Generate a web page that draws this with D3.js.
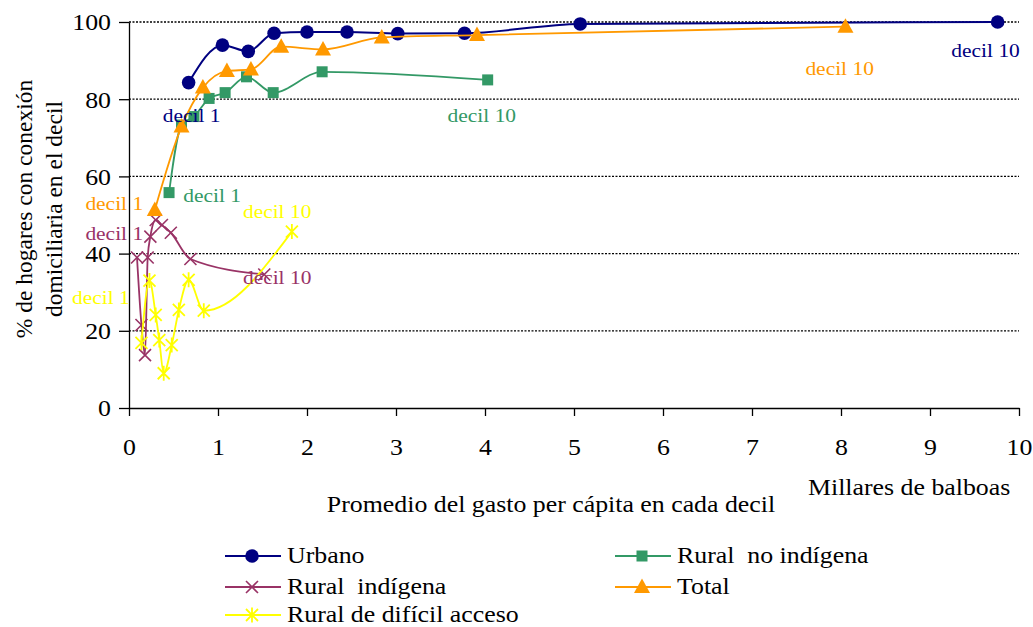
<!DOCTYPE html>
<html>
<head>
<meta charset="utf-8">
<script src="https://cdn.jsdelivr.net/npm/d3@7"></script>
<style>
  body { margin: 0; background: #fff; }
  svg { display: block; }
  text { font-family: "Liberation Serif", "Times New Roman", serif; }
</style>
</head>
<body>
<script>
// values (x: millares de balboas, y: % de hogares)
var urbanoX = [0.67, 1.05, 1.34, 1.63, 2.00, 2.45, 3.02, 3.77, 5.07, 9.76];
var urbanoY = [84.3, 94.0, 92.4, 97.1, 97.4, 97.4, 97.0, 97.1, 99.5, 100];

var ruralNoIndX = [0.45, 0.59, 0.73, 0.90, 1.08, 1.32, 1.62, 2.17, 4.03];
var ruralNoIndY = [55.8, 73.3, 75.5, 80.2, 81.7, 85.8, 81.7, 87.1, 85.0];

var ruralIndX = [0.09, 0.14, 0.18, 0.21, 0.24, 0.30, 0.37, 0.47, 0.69, 1.52];
var ruralIndY = [39.0, 21.5, 13.7, 39.0, 44.4, 48.7, 47.4, 45.4, 38.6, 34.6];

var totalX = [0.29, 0.59, 0.83, 1.10, 1.37, 1.71, 2.18, 2.84, 3.91, 8.05];
var totalY = [51.3, 72.9, 83.0, 87.3, 87.7, 93.6, 92.9, 96.0, 96.6, 98.8];

var dificilX = [0.14, 0.23, 0.30, 0.34, 0.39, 0.48, 0.56, 0.67, 0.84, 1.83];
var dificilY = [16.9, 33.0, 24.1, 17.6, 9.0, 16.3, 25.4, 33.2, 25.2, 45.7];

var xTicks = [0, 1, 2, 3, 4, 5, 6, 7, 8, 9, 10];
var yTicks = [0, 20, 40, 60, 80, 100];
var gridValues = [20, 40, 60, 80, 100];

var seriesNames = ["Urbano", "Rural  no indígena", "Rural  indígena", "Total", "Rural de difícil acceso"];

// decil labels (text, series index, anchor in data units)
var labelText  = ["decil 1", "decil 10", "decil 1", "decil 10", "decil 1", "decil 10", "decil 1", "decil 10", "decil 1", "decil 10"];
var labelSeries = [0, 0, 1, 1, 2, 2, 3, 3, 4, 4];
var labelX = [0.38, 9.24, 0.61, 3.58, -0.49, 1.28, -0.49, 7.60, -0.64, 1.28];
var labelY = [74.1, 90.9, 53.4, 74.1, 43.5, 32.1, 51.3, 86.3, 26.9, 49.2];

var w = 1033, h = 627;
var SX = 1.1; // horizontal text stretch of the original picture

var colors = ["#000080", "#339966", "#993366", "#FF9900", "#FFFF00"];
var markers = ["circle", "square", "x", "triangle", "star"];

var series = [
  { x: urbanoX, y: urbanoY },
  { x: ruralNoIndX, y: ruralNoIndY },
  { x: ruralIndX, y: ruralIndY },
  { x: totalX, y: totalY },
  { x: dificilX, y: dificilY }
];

var xScale = d3.scaleLinear().domain([0, 10]).range([129, 1019]);
var yScale = d3.scaleLinear().domain([0, 100]).range([408, 22]);

var svg = d3.select("body").append("svg")
    .attr("width", w)
    .attr("height", h);

// gridlines
svg.append("g").selectAll("line")
    .data(gridValues)
  .enter().append("line")
    .attr("x1", xScale(0))
    .attr("x2", xScale(10))
    .attr("y1", function(d) { return yScale(d); })
    .attr("y2", function(d) { return yScale(d); })
    .attr("stroke", "#000")
    .attr("stroke-width", 1.3)
    .attr("stroke-dasharray", "2,1.5");

// axes
var yAxis = svg.append("g")
    .attr("transform", "translate(" + xScale(0) + ",0)")
    .call(d3.axisLeft(yScale).tickValues(yTicks).tickSize(10).tickSizeOuter(0).tickPadding(6.4));
var xAxis = svg.append("g")
    .attr("transform", "translate(0," + yScale(0) + ")")
    .call(d3.axisBottom(xScale).tickValues(xTicks).tickSize(8).tickSizeOuter(0).tickPadding(22));

[xAxis, yAxis].forEach(function(ax) {
  ax.selectAll("path, line").attr("stroke", "#000").attr("stroke-width", 1.3);
  ax.selectAll("text")
      .attr("font-family", "Liberation Serif, serif")
      .attr("font-size", "23.5px")
      .attr("fill", "#000")
      .attr("transform", "scale(" + SX + ",1)");
});
yAxis.selectAll("text").attr("dy", "0.34em");

// axis titles
function hText(x, y, str, size, color, anchor) {
  return svg.append("text")
      .attr("transform", "translate(" + x + "," + y + ") scale(" + SX + ",1)")
      .attr("font-size", size)
      .attr("fill", color || "#000")
      .attr("text-anchor", anchor || "start")
      .style("white-space", "pre")
      .text(str);
}

hText(551, 512, "Promedio del gasto per cápita en cada decil", "23.5px", "#000", "middle");
hText(808, 495, "Millares de balboas", "23.5px");

svg.append("text")
    .attr("transform", "translate(32,209) rotate(-90)")
    .attr("text-anchor", "middle")
    .attr("font-size", "23.5px")
    .text("% de hogares con conexión");
svg.append("text")
    .attr("transform", "translate(62,209) rotate(-90)")
    .attr("text-anchor", "middle")
    .attr("font-size", "23.5px")
    .text("domiciliaria en el decil");

// marker drawing
function drawMarker(g, type, color) {
  if (type === "circle") {
    g.append("circle").attr("r", 6.8).attr("fill", color);
  } else if (type === "square") {
    g.append("rect").attr("x", -5.5).attr("y", -5.5).attr("width", 11).attr("height", 11)
        .attr("fill", color);
  } else if (type === "triangle") {
    g.append("path").attr("d", "M0,-8.5L8,6L-8,6Z").attr("fill", color);
  } else if (type === "x") {
    g.append("path").attr("d", "M-6,-6L6,6M-6,6L6,-6")
        .attr("stroke", color).attr("stroke-width", 1.6).attr("fill", "none");
  } else if (type === "star") {
    g.append("path").attr("d", "M-6,-6L6,6M-6,6L6,-6M0,-7.5L0,7.5")
        .attr("stroke", color).attr("stroke-width", 1.8).attr("fill", "none");
  }
}

var line = d3.line()
    .x(function(d) { return xScale(d[0]); })
    .y(function(d) { return yScale(d[1]); })
    .curve(d3.curveMonotoneX);

series.forEach(function(s, i) {
  var pts = s.x.map(function(v, j) { return [v, s.y[j]]; });
  var g = svg.append("g").attr("class", "series-" + i);
  g.append("path")
      .attr("d", line(pts))
      .attr("fill", "none")
      .attr("stroke", colors[i])
      .attr("stroke-width", i === 0 ? 2 : 1.8);
  g.selectAll(".mk")
      .data(pts)
    .enter().append("g")
      .attr("class", "mk")
      .attr("transform", function(d) { return "translate(" + xScale(d[0]) + "," + yScale(d[1]) + ")"; })
      .each(function() { drawMarker(d3.select(this), markers[i], colors[i]); });
});

// decil labels
labelText.forEach(function(t, i) {
  hText(xScale(labelX[i]), yScale(labelY[i]), t, "19.5px", colors[labelSeries[i]]);
});

// legend
var legendCol = [225, 615];
var legendRow = [556, 587, 615];
var legendPos = [[0, 0], [1, 0], [0, 1], [1, 1], [0, 2]];

seriesNames.forEach(function(name, i) {
  var lx = legendCol[legendPos[i][0]], ly = legendRow[legendPos[i][1]];
  var g = svg.append("g").attr("class", "legend");
  g.append("line")
      .attr("x1", lx).attr("x2", lx + 56)
      .attr("y1", ly).attr("y2", ly)
      .attr("stroke", colors[i]).attr("stroke-width", 1.8);
  var m = g.append("g").attr("transform", "translate(" + (lx + 27) + "," + ly + ")");
  drawMarker(m, markers[i], colors[i]);
  hText(lx + 62, ly + 7, name, "23.5px");
});
</script>
</body>
</html>
